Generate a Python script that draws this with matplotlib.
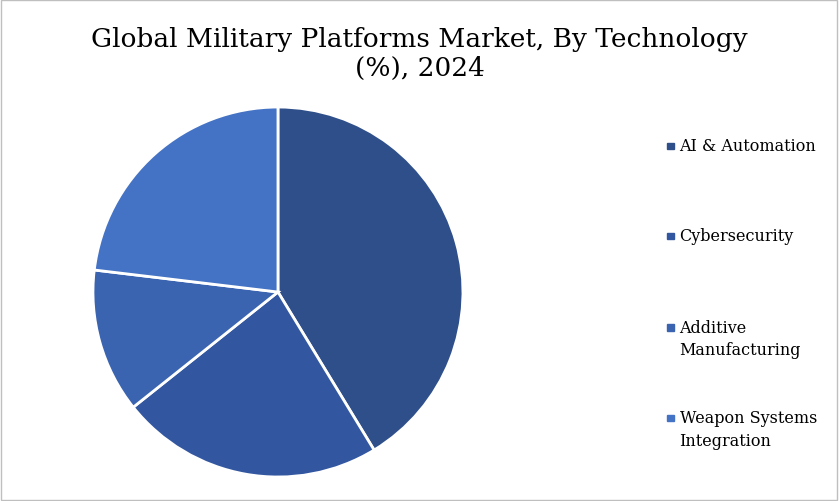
import matplotlib.pyplot as plt
from matplotlib.patches import Rectangle

categories = ["AI & Automation", "Cybersecurity", "Additive\nManufacturing", "Weapon Systems\nIntegration"]
values = [41.3, 23.0, 12.6, 23.1]
colors = ["#2F4F8A", "#3257A0", "#3A63B0", "#4472C4"]

fig = plt.figure(figsize=(8.39, 5.02), dpi=100)
ax = fig.add_axes([0.1108, 0.0478, 0.441, 0.737])
ax.pie(values, colors=colors, startangle=90, counterclock=False,
       wedgeprops=dict(edgecolor="white", linewidth=2))
ax.set_xlim(-1, 1)
ax.set_ylim(-1, 1)
ax.set_aspect("equal")
fig.text(0.5, 0.893, "Global Military Platforms Market, By Technology\n(%), 2024",
         ha="center", va="center", fontsize=19, family="DejaVu Serif", linespacing=1.2)
ys = [0.707, 0.527, 0.345, 0.165]
for c, lab, y in zip(colors, categories, ys):
    fig.patches.append(Rectangle((0.795, y - 0.006), 0.008, 0.013, color=c, transform=fig.transFigure))
    lines = lab.split("\n")
    fig.text(0.81, y + 0.001, lines[0], ha="left", va="center", fontsize=11.5, family="DejaVu Serif")
    if len(lines) > 1:
        fig.text(0.81, y - 0.044, lines[1], ha="left", va="center", fontsize=11.5, family="DejaVu Serif")
fig.patches.append(Rectangle((0.001, 0.002), 0.997, 0.996, fill=False, edgecolor="#BFBFBF",
                             linewidth=1, transform=fig.transFigure))
fig.savefig("out.png")
